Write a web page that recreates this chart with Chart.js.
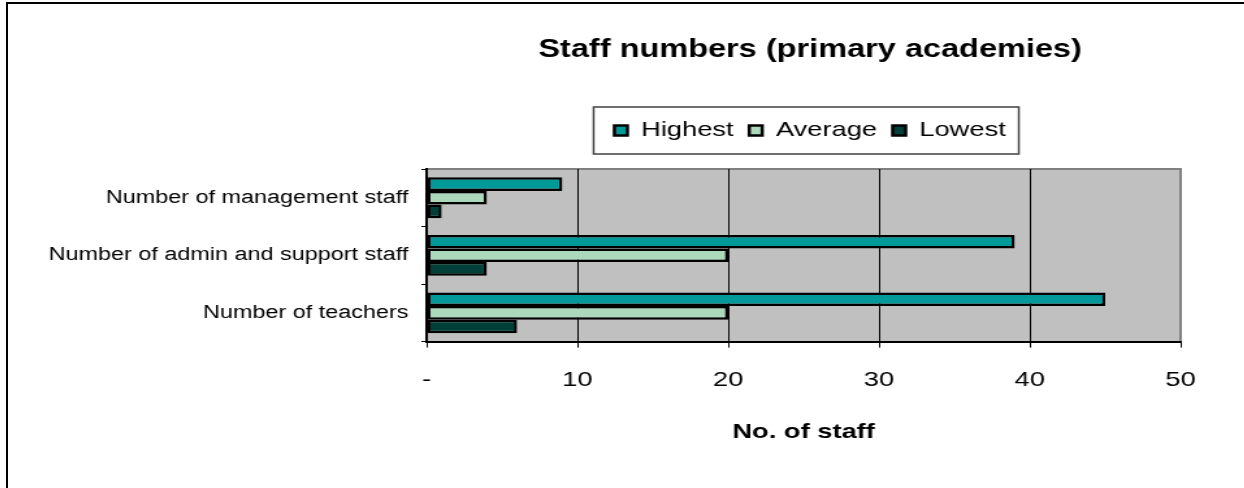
<!DOCTYPE html>
<html>
<head>
<meta charset="utf-8">
<title>Staff numbers (primary academies)</title>
<script src="https://cdn.jsdelivr.net/npm/chart.js@4/dist/chart.umd.min.js"></script>
<style>
  html, body { margin: 0; padding: 0; overflow: hidden; background: #fff; }
  .frame {
    position: absolute; left: 6px; top: 2px;
    width: 1700px; height: 600px;
    border: 2px solid #000;
  }
  /* the whole chart is drawn narrow and widened, so the lettering comes out broad */
  #chart { display: block; transform: scaleX(1.3); transform-origin: 0 0; }
</style>
</head>
<body>
<div class="frame"><canvas id="chart" width="1234" height="520"></canvas></div>
<script>
const categories = ["Number of management staff", "Number of admin and support staff", "Number of teachers"];
const seriesNames = ["Highest", "Average", "Lowest"];
const highest = [9, 39, 45];
const average = [4, 20, 20];
const lowest = [1, 4, 6];
const seriesColors = ["#009999", "#acd8bc", "#004038"];
const xMin = 0, xMax = 50, xStep = 10;

const FONT = "'Liberation Sans', Arial, sans-serif";

// grey plot area with a thin grey frame on top and right
const plotBackground = {
  id: "plotBackground",
  beforeDraw(chart) {
    const { ctx, chartArea: a } = chart;
    ctx.save();
    ctx.fillStyle = "#c0c0c0";
    ctx.fillRect(a.left, a.top, a.right - a.left, a.bottom - a.top);
    ctx.strokeStyle = "#808080";
    ctx.lineWidth = 2;
    ctx.beginPath();
    ctx.moveTo(a.left, a.top);
    ctx.lineTo(a.right, a.top);
    ctx.lineTo(a.right, a.bottom);
    ctx.stroke();
    ctx.restore();
  }
};

// extra room under the legend, and a box drawn round its items
const legendBox = {
  id: "legendBox",
  beforeUpdate(chart) {
    const legend = chart.legend;
    if (legend && !legend._patched) {
      const fit = legend.fit;
      legend.fit = function () {
        fit.call(this);
        this.height += 18;
      };
      legend._patched = true;
    }
  },
  afterDraw(chart) {
    const boxes = chart.legend && chart.legend.legendHitBoxes;
    if (!boxes || !boxes.length) return;
    const left = Math.min(...boxes.map(b => b.left)) - 16;
    const right = Math.max(...boxes.map(b => b.left + b.width)) + 10;
    const top = Math.min(...boxes.map(b => b.top)) - 13;
    const bottom = Math.max(...boxes.map(b => b.top + b.height)) + 13;
    const ctx = chart.ctx;
    ctx.save();
    ctx.strokeStyle = "#404040";
    ctx.lineWidth = 1.5;
    ctx.strokeRect(left, top, right - left, bottom - top);
    ctx.restore();
  }
};

const datasets = [highest, average, lowest].map((values, i) => ({
  label: seriesNames[i],
  data: values,
  backgroundColor: seriesColors[i],
  borderColor: "#000",
  borderWidth: 2.5,
  borderSkipped: false,
  categoryPercentage: 0.71,
  barPercentage: 1
}));

new Chart(document.getElementById("chart"), {
  type: "bar",
  data: { labels: categories, datasets },
  plugins: [plotBackground, legendBox],
  options: {
    indexAxis: "y",
    responsive: false,
    animation: false,
    devicePixelRatio: 1,
    layout: { padding: { left: 0, right: 0, top: 0, bottom: 79 } },
    plugins: {
      title: {
        display: true,
        text: "Staff numbers (primary academies)",
        color: "#000",
        font: { family: FONT, size: 25, weight: "bold" },
        padding: { top: 31, bottom: 43 }
      },
      legend: {
        position: "top",
        labels: {
          color: "#000",
          font: { family: FONT, size: 21 },
          boxWidth: 10,
          boxHeight: 10,
          padding: 12
        }
      },
      tooltip: { enabled: false }
    },
    scales: {
      x: {
        type: "linear",
        min: xMin,
        max: xMax,
        ticks: {
          stepSize: xStep,
          color: "#000",
          padding: 20,
          font: { family: FONT, size: 21 },
          callback: v => (v === 0 ? "-" : v)
        },
        grid: {
          color: ctx => (ctx.tick && ctx.tick.value === xMax ? "#808080" : "#000"),
          tickColor: "#000",
          lineWidth: 1,
          tickLength: 6
        },
        border: { color: "#000", width: 2 },
        title: {
          display: true,
          text: "No. of staff",
          color: "#000",
          font: { family: FONT, size: 21, weight: "bold" },
          padding: { top: 7, bottom: 0 }
        }
      },
      y: {
        type: "category",
        position: "left",
        ticks: {
          color: "#000",
          padding: 10,
          font: { family: FONT, size: 18 }
        },
        grid: {
          drawOnChartArea: false,
          color: "#000",
          tickLength: 4
        },
        border: { color: "#000", width: 2 },
        afterFit(scale) { scale.width = 322; }
      },
      // empty strip on the right so the plot stops short of the title's centre line
      yRight: {
        type: "category",
        position: "right",
        ticks: { display: false },
        grid: { display: false },
        border: { display: false },
        afterFit(scale) { scale.width = 332; }
      }
    }
  }
});
</script>
</body>
</html>
